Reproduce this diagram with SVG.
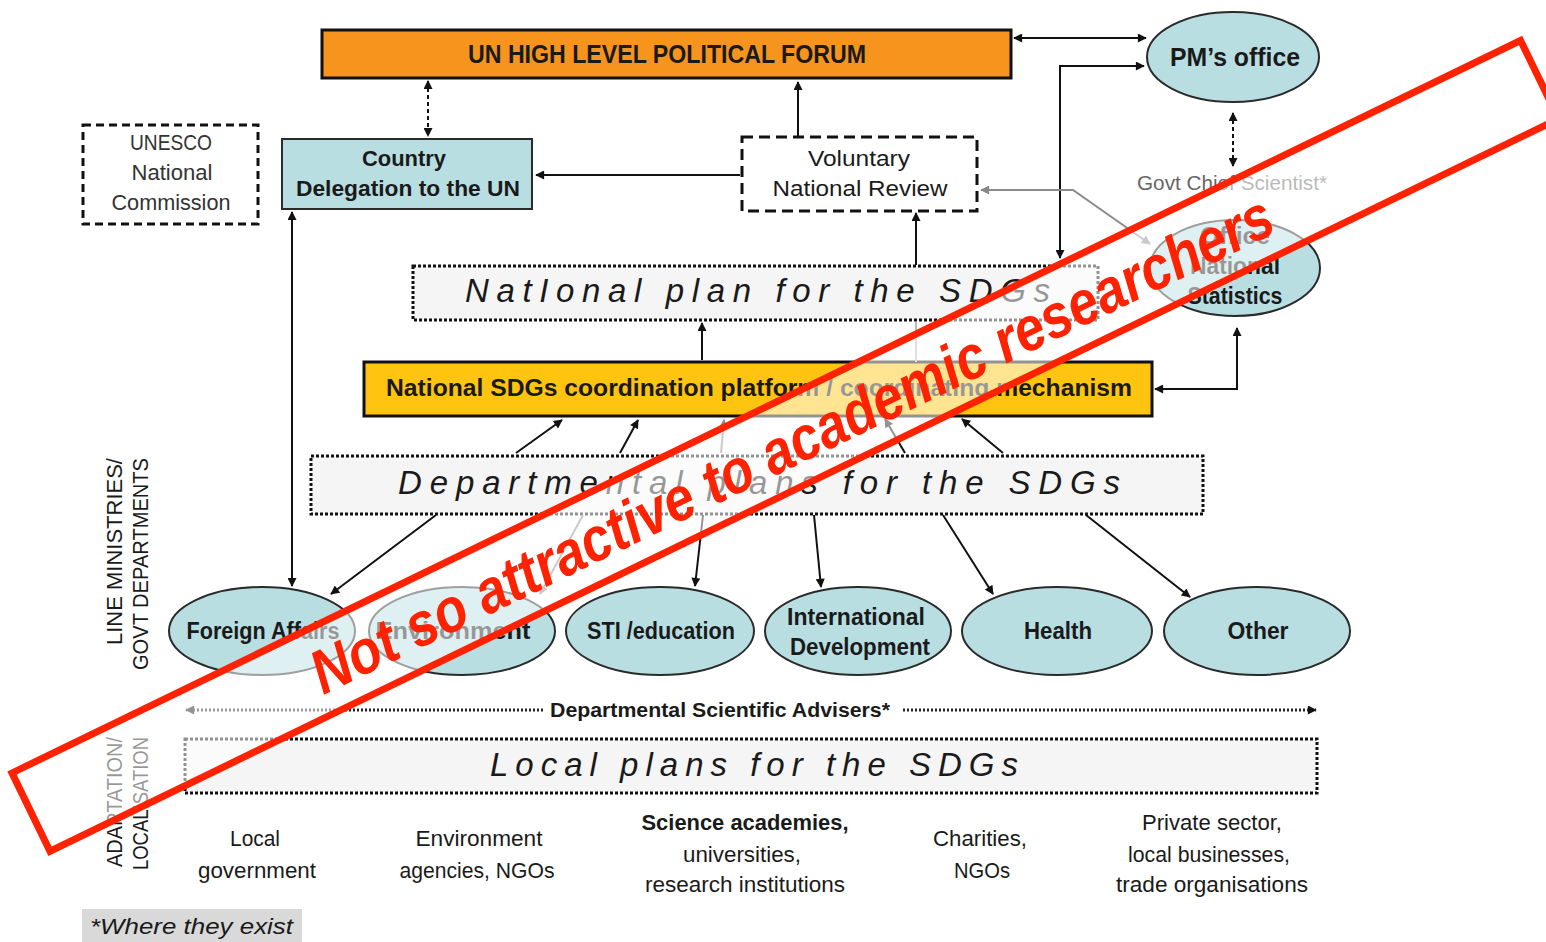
<svg xmlns="http://www.w3.org/2000/svg" width="1546" height="942" viewBox="0 0 1546 942">
<defs>
<marker id="ah" viewBox="0 0 10 10" refX="9" refY="5" markerWidth="11" markerHeight="9" markerUnits="userSpaceOnUse" orient="auto-start-reverse"><path d="M0,0 L10,5 L0,10 z" fill="#111"/></marker>
<marker id="ahg" viewBox="0 0 10 10" refX="9" refY="5" markerWidth="11" markerHeight="9" markerUnits="userSpaceOnUse" orient="auto-start-reverse"><path d="M0,0 L10,5 L0,10 z" fill="#888"/></marker>
<style>
text{font-family:"Liberation Sans Narrow","Liberation Sans",Arial,sans-serif;fill:#1a1a1a;text-anchor:middle}
.b{font-weight:bold}
.lbl{font-size:23px}
.plan{font-size:33px;font-style:italic;text-anchor:start}
.teal{fill:#B8DEE2;stroke:#2a2a2a;stroke-width:2}
.c{fill:none;stroke:#111;stroke-width:2}
.g{fill:none;stroke:#8a8a8a;stroke-width:2}
.bot{font-size:22px}
.rot{font-size:22px;text-anchor:start}
</style>
</defs>
<rect width="1546" height="942" fill="#fff"/>

<g id="hlpf"><rect x="322" y="30" width="689" height="48" fill="#F7941D" stroke="#111" stroke-width="3"/><text class="b" x="667" y="63" font-size="25" textLength="398" lengthAdjust="spacingAndGlyphs">UN HIGH LEVEL POLITICAL FORUM</text></g>
<g id="pm"><ellipse class="teal" cx="1233" cy="57" rx="86" ry="45"/><text class="b" x="1235" y="66" font-size="26" textLength="130" lengthAdjust="spacingAndGlyphs">PM’s office</text></g>
<g id="chief"><text x="1232" y="190" font-size="20" style="fill:#666" textLength="190" lengthAdjust="spacingAndGlyphs">Govt Chief Scientist*</text></g>
<g id="ons"><ellipse class="teal" cx="1235" cy="268" rx="85" ry="48"/><text class="b" x="1235" y="244" font-size="24" textLength="70" lengthAdjust="spacingAndGlyphs">Office</text><text class="b" x="1235" y="274" font-size="24" textLength="90" lengthAdjust="spacingAndGlyphs">National</text><text class="b" x="1235" y="304" font-size="24" textLength="95" lengthAdjust="spacingAndGlyphs">Statistics</text></g>
<g id="unesco"><rect x="83" y="125" width="175" height="99" fill="#fff" stroke="#111" stroke-width="3" stroke-dasharray="8 5"/><text x="171" y="150" font-size="22" style="fill:#333" textLength="82" lengthAdjust="spacingAndGlyphs">UNESCO</text><text x="172" y="180" font-size="22" style="fill:#333" textLength="81" lengthAdjust="spacingAndGlyphs">National</text><text x="171" y="210" font-size="22" style="fill:#333" textLength="119" lengthAdjust="spacingAndGlyphs">Commission</text></g>
<g id="delegation"><rect class="teal" x="282" y="139" width="250" height="70"/><text class="b" x="404" y="166" font-size="22" textLength="84" lengthAdjust="spacingAndGlyphs">Country</text><text class="b" x="408" y="196" font-size="22" textLength="224" lengthAdjust="spacingAndGlyphs">Delegation to the UN</text></g>
<g id="vnr"><rect x="742" y="137" width="235" height="74" fill="#fff" stroke="#111" stroke-width="3" stroke-dasharray="11 6"/><text x="859" y="166" font-size="22" textLength="102" lengthAdjust="spacingAndGlyphs">Voluntary</text><text x="860" y="196" font-size="22" textLength="175" lengthAdjust="spacingAndGlyphs">National Review</text></g>
<g id="national-plan"><rect x="413" y="266" width="685" height="54" fill="#F5F5F5" stroke="#111" stroke-width="3" stroke-dasharray="3 2"/><text class="plan" x="465" y="302" textLength="585" lengthAdjust="spacing">NatIonal plan for the SDGs</text></g>
<g id="coord"><rect x="364" y="362" width="788" height="54" fill="#FFC40F" stroke="#111" stroke-width="3"/><text class="b" x="759" y="396" font-size="24" textLength="746" lengthAdjust="spacingAndGlyphs">National SDGs coordination platform / coordinating mechanism</text></g>
<g id="dept-plans"><rect x="311" y="456" width="892" height="58" fill="#F5F5F5" stroke="#111" stroke-width="3" stroke-dasharray="3 2"/><text class="plan" x="398" y="494" textLength="722" lengthAdjust="spacing">Departmental plans for the SDGs</text></g>

<g id="foreign"><ellipse class="teal" cx="262" cy="631" rx="93" ry="44"/><text class="b lbl" x="263" y="639" textLength="153" lengthAdjust="spacingAndGlyphs">Foreign Affairs</text></g>
<g id="environment"><ellipse class="teal" cx="462" cy="631" rx="93" ry="44"/><text class="b lbl" x="453" y="639" textLength="155" lengthAdjust="spacingAndGlyphs">Environment</text></g>
<g id="sti"><ellipse class="teal" cx="660" cy="631" rx="94" ry="44"/><text class="b lbl" x="661" y="639" textLength="148" lengthAdjust="spacingAndGlyphs">STI /education</text></g>
<g id="intdev"><ellipse class="teal" cx="858" cy="631" rx="93" ry="44"/><text class="b lbl" x="856" y="625" textLength="138" lengthAdjust="spacingAndGlyphs">International</text><text class="b lbl" x="860" y="655" textLength="140" lengthAdjust="spacingAndGlyphs">Development</text></g>
<g id="health"><ellipse class="teal" cx="1057" cy="631" rx="95" ry="44"/><text class="b lbl" x="1058" y="639" textLength="68" lengthAdjust="spacingAndGlyphs">Health</text></g>
<g id="other"><ellipse class="teal" cx="1257" cy="631" rx="93" ry="44"/><text class="b lbl" x="1258" y="639" textLength="61" lengthAdjust="spacingAndGlyphs">Other</text></g>

<g id="advisers"><text class="b" x="720" y="717" font-size="20" textLength="340" lengthAdjust="spacingAndGlyphs">Departmental Scientific Advisers*</text></g>
<g id="local-plans"><rect x="185" y="739" width="1132" height="54" fill="#F5F5F5" stroke="#111" stroke-width="3" stroke-dasharray="3 2"/><text class="plan" x="490" y="776" textLength="528" lengthAdjust="spacing">Local plans for the SDGs</text></g>

<g id="local-gov"><text class="bot" x="255" y="846" textLength="50" lengthAdjust="spacingAndGlyphs">Local</text><text class="bot" x="257" y="878" textLength="118" lengthAdjust="spacingAndGlyphs">government</text></g>
<g id="env-agencies"><text class="bot" x="479" y="846" textLength="127" lengthAdjust="spacingAndGlyphs">Environment</text><text class="bot" x="477" y="878" textLength="155" lengthAdjust="spacingAndGlyphs">agencies, NGOs</text></g>
<g id="science"><text class="bot b" x="745" y="830" textLength="207" lengthAdjust="spacingAndGlyphs">Science academies,</text><text class="bot" x="742" y="862" textLength="118" lengthAdjust="spacingAndGlyphs">universities,</text><text class="bot" x="745" y="892" textLength="200" lengthAdjust="spacingAndGlyphs">research institutions</text></g>
<g id="charities"><text class="bot" x="980" y="846" textLength="94" lengthAdjust="spacingAndGlyphs">Charities,</text><text class="bot" x="982" y="878" textLength="56" lengthAdjust="spacingAndGlyphs">NGOs</text></g>
<g id="private"><text class="bot" x="1212" y="830" textLength="140" lengthAdjust="spacingAndGlyphs">Private sector,</text><text class="bot" x="1209" y="862" textLength="162" lengthAdjust="spacingAndGlyphs">local businesses,</text><text class="bot" x="1212" y="892" textLength="192" lengthAdjust="spacingAndGlyphs">trade organisations</text></g>

<g id="side-labels">
<text class="rot" transform="translate(122,645) rotate(-90)" textLength="187" lengthAdjust="spacingAndGlyphs">LINE MINISTRIES/</text>
<text class="rot" transform="translate(148,670) rotate(-90)" textLength="212" lengthAdjust="spacingAndGlyphs">GOVT DEPARTMENTS</text>
<text class="rot" transform="translate(122,867) rotate(-90)" textLength="130" lengthAdjust="spacingAndGlyphs">ADAPTATION/</text>
<text class="rot" transform="translate(148,870) rotate(-90)" textLength="133" lengthAdjust="spacingAndGlyphs">LOCALISATION</text>
</g>
<g id="footnote"><rect x="82" y="909" width="220" height="33" fill="#D9D9D9"/><text x="90" y="934" font-size="22" font-style="italic" style="text-anchor:start" textLength="203" lengthAdjust="spacingAndGlyphs">*Where they exist</text></g>

<g id="connectors">
<line class="c" x1="1014" y1="38" x2="1146" y2="38" marker-start="url(#ah)" marker-end="url(#ah)"/>
<path class="c" d="M1060,258 V66 H1144" marker-start="url(#ah)" marker-end="url(#ah)"/>
<line class="c" x1="1233" y1="113" x2="1233" y2="166" stroke-dasharray="4 3" marker-start="url(#ah)" marker-end="url(#ah)"/>
<line class="c" x1="428" y1="81" x2="428" y2="136" stroke-dasharray="4 3" marker-start="url(#ah)" marker-end="url(#ah)"/>
<line class="c" x1="740" y1="175" x2="536" y2="175" marker-end="url(#ah)"/>
<line class="c" x1="798" y1="136" x2="798" y2="82" marker-end="url(#ah)"/>
<line class="c" x1="916" y1="265" x2="916" y2="213" marker-end="url(#ah)"/>
<path class="g" d="M1150,244 L1073,190 H981" marker-start="url(#ahg)" marker-end="url(#ahg)"/>
<path class="c" d="M1237,328 V389 H1155" marker-start="url(#ah)" marker-end="url(#ah)"/>
<line class="c" x1="292" y1="212" x2="292" y2="586" marker-start="url(#ah)" marker-end="url(#ah)"/>
<line class="c" x1="702" y1="360" x2="702" y2="323" marker-end="url(#ah)"/>
<line x1="916" y1="322" x2="916" y2="362" stroke="#bbb" stroke-width="2"/>
<line class="c" x1="516" y1="453" x2="562" y2="420" marker-end="url(#ah)"/>
<line class="c" x1="620" y1="453" x2="638" y2="420" marker-end="url(#ah)"/>
<line class="g" x1="721" y1="453" x2="724" y2="420" marker-end="url(#ahg)"/>
<line class="c" x1="905" y1="453" x2="885" y2="419" marker-end="url(#ah)"/>
<line class="c" x1="1003" y1="453" x2="962" y2="419" marker-end="url(#ah)"/>
<line class="c" x1="436" y1="515" x2="331" y2="594" marker-end="url(#ah)"/>
<line class="g" x1="583" y1="515" x2="540" y2="594" marker-end="url(#ahg)"/>
<line class="c" x1="703" y1="515" x2="695" y2="586" marker-end="url(#ah)"/>
<line class="c" x1="814" y1="515" x2="821" y2="587" marker-end="url(#ah)"/>
<line class="c" x1="943" y1="515" x2="993" y2="594" marker-end="url(#ah)"/>
<line class="c" x1="1086" y1="515" x2="1190" y2="597" marker-end="url(#ah)"/>
<line x1="543" y1="710" x2="186" y2="710" stroke="#222" stroke-width="3" stroke-dasharray="2 2" marker-end="url(#ah)"/>
<line x1="903" y1="710" x2="1316" y2="710" stroke="#222" stroke-width="3" stroke-dasharray="2 2" marker-end="url(#ah)"/>
</g>

<g id="watermark" transform="translate(12,773) rotate(-25.9)">
<rect x="0" y="0" width="1677" height="87" fill="#fff" fill-opacity="0.55" stroke="#FF2200" stroke-width="7"/>
<text x="314" y="66" font-size="62" font-weight="bold" font-style="italic" style="fill:#FF2200;text-anchor:start;font-family:'Liberation Sans',Arial,sans-serif" textLength="1062" lengthAdjust="spacingAndGlyphs">Not so attractive to academic researchers</text>
</g>
</svg>
